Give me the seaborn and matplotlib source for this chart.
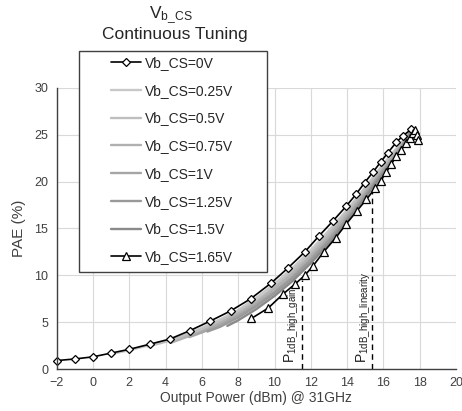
import numpy as np
import matplotlib
matplotlib.use('Agg')
import matplotlib.pyplot as plt
import matplotlib.patches as patches
from matplotlib.ticker import MultipleLocator
import seaborn as sns

# Vb_CS = 0V (diamonds)
x_0v = [-2.0, -1.0, 0.0, 1.0, 2.0, 3.13, 4.24, 5.34, 6.44, 7.58, 8.69, 9.83, 10.75, 11.67,
        12.45, 13.22, 13.96, 14.51, 14.97, 15.42, 15.85, 16.25, 16.71, 17.08, 17.54]
y_0v = [0.9, 1.07, 1.3, 1.7, 2.1, 2.65, 3.2, 4.1, 5.1, 6.2, 7.5, 9.2, 10.8, 12.5,
        14.2, 15.8, 17.4, 18.7, 19.9, 21.0, 22.1, 23.1, 24.2, 24.9, 25.6]

# intermediate bias curves (lines only)
x_025 = [1, 2, 3, 4, 5, 6, 7, 8, 9, 10, 11, 12, 13, 14, 15, 16, 17, 17.5]
y_025 = [1.6, 2.0, 2.5, 3.0, 3.6, 4.4, 5.3, 6.3, 7.6, 9.1, 10.8, 12.7, 14.8, 17.0, 19.4, 21.9, 24.2, 25.4]
x_05 = [3, 4, 5, 6, 7, 8, 9, 10, 11, 12, 13, 14, 15, 16, 17, 17.5]
y_05 = [2.4, 2.9, 3.5, 4.2, 5.1, 6.1, 7.3, 8.8, 10.5, 12.4, 14.5, 16.8, 19.2, 21.7, 24.1, 25.3]
x_075 = [4.3, 5, 6, 7, 8, 9, 10, 11, 12, 13, 14, 15, 16, 17, 17.5]
y_075 = [2.8, 3.3, 4.0, 4.9, 5.9, 7.1, 8.6, 10.2, 12.1, 14.2, 16.5, 18.9, 21.4, 23.9, 25.2]
x_1 = [5.3, 6, 7, 8, 9, 10, 11, 12, 13, 14, 15, 16, 17, 17.5]
y_1 = [3.4, 3.9, 4.7, 5.7, 6.9, 8.3, 9.9, 11.8, 13.9, 16.2, 18.7, 21.2, 23.8, 25.2]
x_125 = [6.3, 7, 8, 9, 10, 11, 12, 13, 14, 15, 16, 17, 17.5]
y_125 = [4.0, 4.5, 5.5, 6.7, 8.1, 9.7, 11.6, 13.7, 16.0, 18.5, 21.1, 23.7, 25.2]
x_15 = [7.4, 8, 9, 10, 11, 12, 13, 14, 15, 16, 17, 17.5]
y_15 = [4.6, 5.2, 6.4, 7.8, 9.4, 11.3, 13.4, 15.8, 18.3, 20.9, 23.6, 25.3]

# Vb_CS = 1.65V (triangles)
x_165 = [8.73, 9.65, 10.47, 11.15, 11.67, 12.12, 12.71, 13.37, 13.96, 14.55, 15.06, 15.55,
         15.85, 16.16, 16.44, 16.71, 16.99, 17.22, 17.44, 17.62, 17.75, 17.85, 17.9]
y_165 = [5.4, 6.5, 8.0, 9.1, 10.0, 11.0, 12.5, 14.0, 15.5, 16.9, 18.1, 19.3,
         20.1, 21.0, 21.9, 22.7, 23.4, 24.1, 24.7, 25.2, 25.5, 25.0, 24.4]

gray_curves = [
    ('Vb_CS=0.25V', x_025, y_025, '#c8c8c8'),
    ('Vb_CS=0.5V', x_05, y_05, '#bebebe'),
    ('Vb_CS=0.75V', x_075, y_075, '#b0b0b0'),
    ('Vb_CS=1V', x_1, y_1, '#a5a5a5'),
    ('Vb_CS=1.25V', x_125, y_125, '#999999'),
    ('Vb_CS=1.5V', x_15, y_15, '#8a8a8a'),
]

# P1dB markers
p1db_gain = 11.52
p1db_gain_top = 9.5
p1db_lin = 15.37
p1db_lin_top = 19.0

sns.set_style('white')
plt.rcParams['font.family'] = ['Liberation Sans', 'DejaVu Sans']
plt.rcParams['mathtext.fontset'] = 'custom'
plt.rcParams['mathtext.rm'] = 'Liberation Sans'

fig = plt.figure(figsize=(4.62, 4.11), dpi=100)
ax = fig.add_axes([56.7 / 462, 1 - 369 / 411, (456 - 56.7) / 462, (369 - 88) / 411])

handles = {}
for label, xs, ys, col in gray_curves:
    sns.lineplot(x=xs, y=ys, sort=False, ax=ax, color=col, lw=1.7, label=label)
    handles[label] = ax.get_lines()[-1]

sns.lineplot(x=x_0v, y=y_0v, sort=False, ax=ax, color='black', lw=1.2, marker='D',
             markersize=4, markerfacecolor='white', markeredgecolor='black',
             markeredgewidth=0.9, label='Vb_CS=0V', clip_on=False)
handles['Vb_CS=0V'] = ax.get_lines()[-1]
sns.lineplot(x=x_165, y=y_165, sort=False, ax=ax, color='black', lw=1.2, marker='^',
             markersize=5.5, markerfacecolor='white', markeredgecolor='black',
             markeredgewidth=0.9, label='Vb_CS=1.65V')
handles['Vb_CS=1.65V'] = ax.get_lines()[-1]
if ax.get_legend() is not None:
    ax.get_legend().remove()

ax.vlines([p1db_gain, p1db_lin], 0, [p1db_gain_top, p1db_lin_top], colors='black',
          linestyles=(0, (4, 3)), lw=1.0, zorder=1)
ax.text(10.95, 0.6, r'$\mathregular{P_{1dB\_high\_gain}}$', rotation=90, ha='center',
        va='bottom', fontsize=10, color='#202020')
ax.text(14.94, 0.6, r'$\mathregular{P_{1dB\_high\_linearity}}$', rotation=90, ha='center',
        va='bottom', fontsize=10, color='#202020')

ax.set_xlim(-2, 20)
ax.set_ylim(0, 30)
ax.xaxis.set_major_locator(MultipleLocator(2))
ax.yaxis.set_major_locator(MultipleLocator(5))
ax.yaxis.set_minor_locator(MultipleLocator(2.5))
ax.grid(True, which='major', color='#d9d9d9', lw=0.8)
ax.set_axisbelow(True)
for s in ['top', 'right']:
    ax.spines[s].set_visible(False)
for s in ['left', 'bottom']:
    ax.spines[s].set_color('#404040')
    ax.spines[s].set_linewidth(1.0)
ax.tick_params(which='major', direction='inout', length=6, width=1, color='#404040',
               labelsize=9, labelcolor='#404040', pad=3)
ax.tick_params(which='minor', axis='y', direction='inout', length=4, width=1, color='#404040')
ax.set_xlabel('Output Power (dBm) @ 31GHz', fontsize=10, color='#404040', labelpad=1)
ax.set_ylabel('PAE (%)', fontsize=11, color='#404040', labelpad=6)

# legend box and entries
fig.add_artist(patches.Rectangle((79 / 462, 1 - 272 / 411), (267 - 79) / 462, (272 - 51) / 411,
                                 transform=fig.transFigure, facecolor='white',
                                 edgecolor='#404040', lw=1.0, zorder=2))
order = ['Vb_CS=0V', 'Vb_CS=0.25V', 'Vb_CS=0.5V', 'Vb_CS=0.75V', 'Vb_CS=1V',
         'Vb_CS=1.25V', 'Vb_CS=1.5V', 'Vb_CS=1.65V']
leg = fig.legend([handles[k] for k in order], order, loc='upper left',
                 bbox_to_anchor=(111 / 462, 1 - 56 / 411), frameon=False, borderpad=0,
                 borderaxespad=0, handlelength=2.15, handletextpad=0.3, labelspacing=0.99,
                 fontsize=10)
leg.set_zorder(3)

fig.text(171 / 462, 1 - 15 / 411, r'$\mathregular{V_{b\_CS}}$', ha='center', va='center', fontsize=12.5)
fig.text(175 / 462, 1 - 34 / 411, 'Continuous Tuning', ha='center', va='center', fontsize=12.5)

fig.savefig('out.png', dpi=100)
